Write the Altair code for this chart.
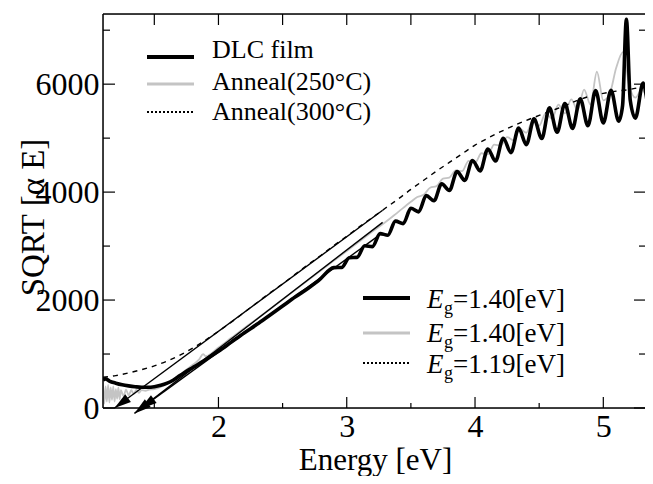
import altair as alt
import pandas as pd

# ---------------- data ----------------
dlc_E = [1.10, 1.12, 1.15, 1.20, 1.25, 1.30, 1.35, 1.40, 1.45, 1.50, 1.55, 1.60, 1.65, 1.70,
         1.75, 1.80, 1.90, 2.00, 2.10, 2.20, 2.30, 2.40, 2.50, 2.60, 2.70, 2.78, 2.90, 2.96,
         3.02, 3.08, 3.14, 3.20, 3.26, 3.32, 3.38, 3.44, 3.50, 3.56, 3.62, 3.68, 3.74, 3.80,
         3.86, 3.92, 3.98, 4.04, 4.10, 4.16, 4.22, 4.28, 4.34, 4.40, 4.46, 4.52, 4.58, 4.64,
         4.70, 4.76, 4.82, 4.88, 4.94, 5.00, 5.06, 5.12, 5.15, 5.18, 5.21, 5.25, 5.31, 5.37,
         5.40]
dlc_V = [520, 540, 500, 460, 430, 410, 395, 385, 385, 395, 420, 460, 520, 600,
         680, 750, 900, 1050, 1220, 1390, 1550, 1720, 1890, 2060, 2220, 2360, 2600, 2604,
         2785, 2790, 3005, 2990, 3231, 3202, 3463, 3416, 3700, 3634, 3935, 3840, 4155, 4030,
         4379, 4218, 4587, 4394, 4800, 4576, 4998, 4732, 5186, 4880, 5356, 4992, 5560, 5110,
         5640, 5180, 5731, 5230, 5880, 5280, 5887, 5314, 5600, 7200, 5700, 5370, 6020, 5390,
         5450]

a250_E = [1.10, 1.11, 1.12, 1.13, 1.14, 1.15, 1.16, 1.17, 1.18, 1.19, 1.20, 1.21, 1.22, 1.23,
          1.24, 1.26, 1.28, 1.30, 1.32, 1.34, 1.36, 1.38, 1.40, 1.43, 1.46, 1.50, 1.55, 1.60,
          1.65, 1.70, 1.75, 1.80, 1.85, 1.88, 1.90, 2.00, 2.10, 2.20, 2.30, 2.40, 2.50, 2.60,
          2.70, 2.80, 2.90, 3.00, 3.10, 3.20, 3.30, 3.40, 3.50, 3.55, 3.60, 3.65, 3.70, 3.75,
          3.80, 3.85, 3.90, 3.95, 4.00, 4.05, 4.10, 4.15, 4.20, 4.25, 4.30, 4.35, 4.40, 4.45,
          4.50, 4.55, 4.60, 4.65, 4.70, 4.75, 4.80, 4.85, 4.90, 4.95, 5.00, 5.05, 5.10, 5.155,
          5.20, 5.25, 5.30, 5.36, 5.40]
a250_V = [420, 80, 400, 120, 430, 100, 380, 150, 400, 120, 350, 170, 380, 160,
          330, 220, 340, 230, 330, 260, 340, 280, 330, 320, 340, 350, 390, 450,
          520, 610, 710, 800, 900, 1000, 960, 1120, 1300, 1480, 1650, 1830, 2010, 2190,
          2370, 2550, 2730, 2910, 3090, 3270, 3440, 3630, 3820, 3910, 3950, 4080, 4110, 4250,
          4270, 4400, 4390, 4580, 4540, 4720, 4700, 4880, 4860, 5020, 4960, 5170, 5100, 5320,
          5230, 5460, 5360, 5620, 5460, 5720, 5520, 5900, 5620, 6230, 5700, 5820, 6300, 6600,
          6000, 5750, 5900, 5700, 6700]

a300_E = [1.10, 1.20, 1.30, 1.40, 1.50, 1.60, 1.70, 1.80, 1.90, 2.00, 2.10, 2.20, 2.30, 2.40,
          2.50, 2.60, 2.70, 2.80, 2.90, 3.00, 3.10, 3.20, 3.30, 3.40, 3.50, 3.60, 3.70, 3.80,
          3.90, 4.00, 4.10, 4.20, 4.30, 4.40, 4.50, 4.60, 4.70, 4.80, 4.90, 5.00, 5.10, 5.20,
          5.30, 5.40]
a300_V = [570, 600, 650, 710, 780, 870, 980, 1110, 1260, 1420, 1590, 1770, 1950, 2130,
          2300, 2480, 2660, 2830, 3010, 3180, 3360, 3530, 3700, 3870, 4050, 4220, 4390, 4550,
          4710, 4870, 5000, 5120, 5230, 5330, 5420, 5510, 5600, 5700, 5780, 5830, 5870, 5900,
          5950, 6000]

# tangent (fit) lines: start (arrow tip) and end points
fit_names = ["A", "B", "C"]
fit_E0 = [1.19, 1.345, 1.39]
fit_V0 = [0, -100, -17]
fit_E1 = [3.28, 3.28, 3.27]
fit_V1 = [3664, 3440, 3230]
fit_angle = [233.6, 232.5, 234.0]

x_major = [2, 3, 4, 5]
x_minor = [1.5, 2.5, 3.5, 4.5]
y_major = [0, 2000, 4000, 6000]
y_minor = [1000, 3000, 5000, 7000]

legend1_labels = ["DLC film", "Anneal(250°C)", "Anneal(300°C)"]
legend2_values = ["=1.40[eV]", "=1.40[eV]", "=1.19[eV]"]

# ---------------- layout ----------------
# page is 653 px wide: the whole svg must stay within 637 px to avoid rescaling
W, H = 542, 394
FONT = "Liberation Serif"
GRAY = "#c4c4c4"
xs = alt.Scale(domain=[1.1, 5.325], nice=False, zero=False)
ys = alt.Scale(domain=[0, 7300], nice=False, zero=False)


def curve(E, V, name):
    return pd.DataFrame({"E": E, "V": V, "s": name})


df_dlc = curve(dlc_E, dlc_V, "dlc")
df_250 = curve(a250_E, a250_V, "a250")
df_300 = curve(a300_E, a300_V, "a300")

X = alt.X("E:Q", scale=xs,
          axis=alt.Axis(values=x_major, format="d", domain=False, ticks=False, grid=False,
                        labelFont=FONT, labelFontSize=32, labelColor="black", labelPadding=3,
                        title="Energy [eV]", titleFont=FONT, titleFontSize=31,
                        titleFontWeight="normal", titleColor="black",
                        titleBaseline="alphabetic", titleY=61, titleX=272))
Y = alt.Y("V:Q", scale=ys,
          axis=alt.Axis(values=y_major, format="d", domain=False, ticks=False, grid=False,
                        labelFont=FONT, labelFontSize=32, labelColor="black", labelPadding=4,
                        title="SQRT [α E]", titleFont=FONT, titleFontSize=33,
                        titleFontWeight="normal", titleColor="black", titleAngle=270,
                        titleBaseline="alphabetic", titleAlign="center",
                        titleX=-60, titleY=203))

l250 = alt.Chart(df_250).mark_line(color=GRAY, strokeWidth=1.8, clip=True,
                                   interpolate="monotone").encode(x=X, y=Y)
l300 = alt.Chart(df_300).mark_line(color="black", strokeWidth=1.4, strokeDash=[5, 5],
                                   clip=True, interpolate="monotone").encode(x=X, y=Y)
ldlc = alt.Chart(df_dlc).mark_line(color="black", strokeWidth=3.6, clip=True,
                                   interpolate="monotone").encode(x=X, y=Y)

df_fit = pd.DataFrame({"n": fit_names, "E0": fit_E0, "V0": fit_V0, "E1": fit_E1,
                       "V1": fit_V1, "ang": fit_angle})
fits = alt.Chart(df_fit).mark_rule(color="black", strokeWidth=1.4).encode(
    x=alt.X("E0:Q", scale=xs), y=alt.Y("V0:Q", scale=ys), x2="E1:Q", y2="V1:Q")
arrows = alt.Chart(df_fit).mark_point(
    shape="M0,0L0.6,2.1L-0.6,2.1Z", filled=True, size=256, color="black", opacity=1
).encode(x=alt.X("E0:Q", scale=xs), y=alt.Y("V0:Q", scale=ys),
         angle=alt.Angle("ang:Q", scale=None))

# ---------------- frame and inward ticks ----------------
one = pd.DataFrame({"k": [0]})
frame = [
    alt.Chart(one).mark_rule(color="black", strokeWidth=1.5).encode(
        x=alt.value(0), x2=alt.value(W), y=alt.value(0)),
    alt.Chart(one).mark_rule(color="black", strokeWidth=1.5).encode(
        x=alt.value(0), x2=alt.value(W), y=alt.value(H)),
    alt.Chart(one).mark_rule(color="black", strokeWidth=1.5).encode(
        x=alt.value(0), y=alt.value(0), y2=alt.value(H)),
]


def tick_layer(vals, axis, length, side):
    d = pd.DataFrame({"v": vals})
    if axis == "x":
        y0 = H if side == "bottom" else 0
        y1 = H - length if side == "bottom" else length
        return alt.Chart(d).mark_rule(color="black", strokeWidth=1.2).encode(
            x=alt.X("v:Q", scale=xs), y=alt.value(y0), y2=alt.value(y1))
    x0 = 0 if side == "left" else W
    x1 = length if side == "left" else W - length
    return alt.Chart(d).mark_rule(color="black", strokeWidth=1.2).encode(
        y=alt.Y("v:Q", scale=ys), x=alt.value(x0), x2=alt.value(x1))


ticks = [
    tick_layer(x_major, "x", 11, "bottom"), tick_layer(x_minor, "x", 5, "bottom"),
    tick_layer(x_major + x_minor, "x", 11, "top"),
    tick_layer(y_major, "y", 12, "left"), tick_layer(y_minor, "y", 7, "left"),
    tick_layer(y_major, "y", 11, "right"), tick_layer(y_minor, "y", 6, "right"),
]

# ---------------- legends ----------------
leg_styles = [("black", 4, []), (GRAY, 3, []), ("black", 2, [2, 2])]
leg1_line_y = [43, 70, 98]
leg1_text_y = [44, 76, 106]
leg2_line_y = [284, 319, 349]
leg2_text_y = [294, 328, 359]

legend_layers = []
for i, (col, sw, dash) in enumerate(leg_styles):
    kw = dict(color=col, strokeWidth=sw)
    if dash:
        kw["strokeDash"] = dash
    legend_layers.append(alt.Chart(one).mark_rule(**kw).encode(
        x=alt.value(44), x2=alt.value(91), y=alt.value(leg1_line_y[i])))
    legend_layers.append(alt.Chart(one).mark_text(
        text=legend1_labels[i], font=FONT, fontSize=26, align="left", baseline="alphabetic",
        color="black").encode(x=alt.value(109), y=alt.value(leg1_text_y[i])))
    legend_layers.append(alt.Chart(one).mark_rule(**kw).encode(
        x=alt.value(260), x2=alt.value(307), y=alt.value(leg2_line_y[i])))
    legend_layers.append(alt.Chart(one).mark_text(
        text="E", font=FONT, fontSize=27, fontStyle="italic", align="left",
        baseline="alphabetic", color="black").encode(
        x=alt.value(324), y=alt.value(leg2_text_y[i])))
    legend_layers.append(alt.Chart(one).mark_text(
        text="g", font=FONT, fontSize=18, align="left", baseline="alphabetic",
        color="black").encode(x=alt.value(341), y=alt.value(leg2_text_y[i] + 6)))
    legend_layers.append(alt.Chart(one).mark_text(
        text=legend2_values[i], font=FONT, fontSize=27, align="left", baseline="alphabetic",
        color="black").encode(x=alt.value(350), y=alt.value(leg2_text_y[i])))

chart = alt.layer(l250, l300, ldlc, fits, arrows, *frame, *ticks, *legend_layers).properties(
    width=W, height=H,
    autosize=alt.AutoSizeParams(type="none"),
    padding={"left": 95, "top": 6, "right": 0, "bottom": 68},
).configure_view(stroke="transparent", strokeWidth=0).configure(background="white")

chart.save("out.html", embed_options={"renderer": "svg", "actions": False})
